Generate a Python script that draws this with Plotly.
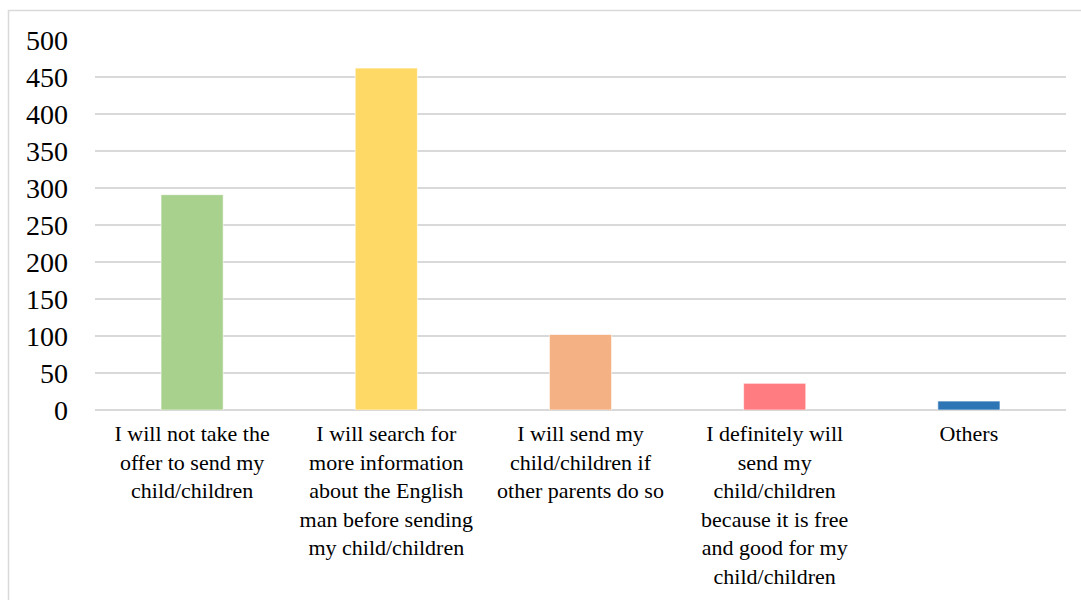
import plotly.graph_objects as go

categories = [
    "I will not take the<br>offer to send my<br>child/children",
    "I will search for<br>more information<br>about the English<br>man before sending<br>my child/children",
    "I will send my<br>child/children if<br>other parents do so",
    "I definitely will<br>send my<br>child/children<br>because it is free<br>and good for my<br>child/children",
    "Others",
]
values = [291, 462, 102, 36, 12]
colors = ["#A9D18E", "#FFD966", "#F4B183", "#FF7C80", "#2E75B6"]

W, H = 1081, 600
ml, mr, mt, mb = 95, 15, 40, 190
pw = W - ml - mr
ph = H - mt - mb

fig = go.Figure(go.Bar(
    x=categories, y=values,
    marker=dict(color=colors, line=dict(color="rgba(255,255,255,0.6)", width=1)),
    hoverinfo="skip",
))

font = "Liberation Serif, Times New Roman, serif"

fig.update_layout(
    width=W, height=H,
    margin=dict(l=ml, r=mr, t=mt, b=mb, pad=0),
    paper_bgcolor="white", plot_bgcolor="white",
    bargap=0.68,
    showlegend=False,
    font=dict(family=font, color="black"),
    shapes=[dict(
        type="rect", xref="paper", yref="paper",
        x0=(8.5 - ml) / pw, x1=(1090 - ml) / pw,
        y0=(mt + ph - 610) / ph, y1=(mt + ph - 10.5) / ph,
        line=dict(color="#d9d9d9", width=1.5), fillcolor="rgba(0,0,0,0)", layer="below",
    )],
)
fig.update_xaxes(
    showgrid=False, showline=False, zeroline=False, ticks="",
    tickfont=dict(family=font, size=22, color="black"),
    tickangle=0, ticklabelstandoff=8,
)
fig.update_yaxes(
    range=[0, 500], dtick=50, tick0=0,
    showgrid=True, gridcolor="#d9d9d9", gridwidth=1.5,
    zeroline=True, zerolinecolor="#d9d9d9", zerolinewidth=1.5,
    showline=False, ticks="",
    tickfont=dict(family=font, size=28, color="black"),
    ticklabelstandoff=26,
)

fig.write_html("out.html")
